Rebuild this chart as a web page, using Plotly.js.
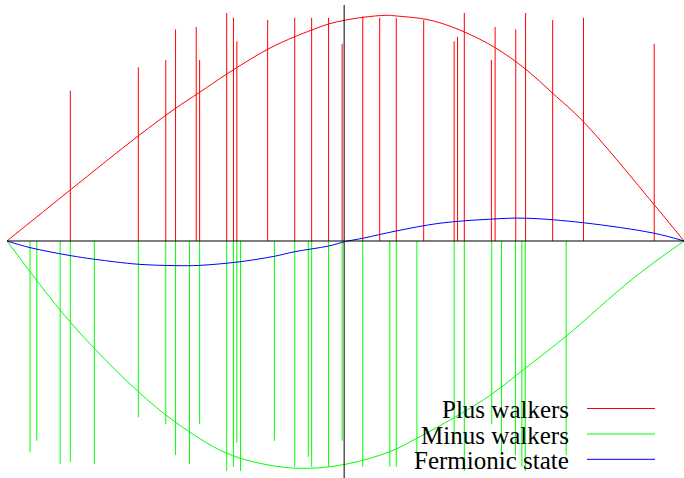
<!DOCTYPE html>
<html>
<head>
<meta charset="utf-8">
<script src="https://cdn.plot.ly/plotly-3.0.1.min.js"></script>
<style>html,body{margin:0;padding:0;background:#fff;}#chart{width:684px;height:478px;}</style>
</head>
<body>
<div id="chart"></div>
<script>
// Plus walkers: positions and heights
var plusX = [-0.813,-0.612,-0.531,-0.502,-0.441,-0.431,-0.351,-0.331,-0.321,-0.230,-0.150,-0.100,-0.050,-0.010,0.051,0.101,0.150,0.231,0.321,0.331,0.351,0.431,0.442,0.503,0.532,0.612,0.703,0.912];
var plusH = [0.659,0.762,0.794,0.928,0.939,0.794,1.000,0.979,0.876,0.969,0.979,0.979,0.979,0.865,0.984,0.979,0.979,0.969,0.876,0.896,1.000,0.794,0.939,0.928,1.000,0.969,0.979,0.865];
// Minus walkers: positions and depths
var minusX = [-0.932,-0.912,-0.843,-0.813,-0.742,-0.612,-0.531,-0.502,-0.461,-0.431,-0.351,-0.331,-0.321,-0.310,-0.210,-0.150,-0.110,-0.100,-0.050,-0.010,0.051,0.131,0.150,0.211,0.321,0.351,0.432,0.461,0.502,0.521,0.531,0.652];
var minusD = [0.927,0.876,0.979,0.969,0.979,0.773,0.803,0.939,0.979,0.803,1.009,0.990,0.885,1.009,0.876,0.990,0.947,0.990,0.990,0.876,0.990,0.990,0.990,0.939,0.885,1.009,0.803,0.939,0.939,0.990,1.009,0.939];
// Curves
var plusCurveX = [-1,-0.813,-0.612,-0.502,-0.431,-0.351,-0.230,-0.150,-0.100,-0.050,0.001,0.051,0.122,0.150,0.231,0.279,0.351,0.442,0.532,0.612,0.703,0.912,1];
var plusCurveY = [0,0.224,0.461,0.582,0.652,0.732,0.841,0.896,0.925,0.952,0.969,0.981,0.990,0.987,0.974,0.957,0.917,0.848,0.754,0.648,0.523,0.159,0];
var minusCurveX = [-1,-0.843,-0.742,-0.612,-0.502,-0.351,-0.210,-0.110,0.001,0.131,0.211,0.338,0.432,0.531,0.652,0.850,1];
var minusCurveY = [0,-0.303,-0.471,-0.661,-0.795,-0.931,-0.987,-0.997,-0.979,-0.924,-0.865,-0.760,-0.672,-0.558,-0.417,-0.164,0];
var fermiX = [-1,-0.932,-0.813,-0.742,-0.612,-0.502,-0.431,-0.312,-0.210,-0.150,-0.050,0.001,0.051,0.150,0.279,0.431,0.532,0.703,0.912,1];
var fermiY = [0,-0.029,-0.064,-0.080,-0.102,-0.108,-0.107,-0.091,-0.067,-0.047,-0.022,-0.002,0.012,0.044,0.078,0.096,0.100,0.080,0.034,0];
var legendLabels = ["Plus walkers","Minus walkers","Fermionic state"];
var legendColors = ["#ff0000","#00ff00","#0000ff"];

function sticks(xs, vals, sign){
  var X=[],Y=[];
  for(var i=0;i<xs.length;i++){X.push(xs[i],xs[i],null);Y.push(0,sign*vals[i],null);}
  return {x:X,y:Y};
}
var p = sticks(plusX, plusH, 1), m = sticks(minusX, minusD, -1);
var traces = [
  {x:p.x,y:p.y,mode:'lines',line:{color:'#ff0000',width:1},hoverinfo:'skip',connectgaps:false},
  {x:m.x,y:m.y,mode:'lines',line:{color:'#00ff00',width:1},hoverinfo:'skip',connectgaps:false},
  {x:plusCurveX,y:plusCurveY,mode:'lines',line:{color:'#ff0000',width:1,shape:'spline',smoothing:1},hoverinfo:'skip'},
  {x:minusCurveX,y:minusCurveY,mode:'lines',line:{color:'#00ff00',width:1,shape:'spline',smoothing:1},hoverinfo:'skip'},
  {x:fermiX,y:fermiY,mode:'lines',line:{color:'#0000ff',width:1,shape:'spline',smoothing:1},hoverinfo:'skip'}
];
var H=478, W=684, L=7;
function py(v){return 1 - v/H;}
function px(v){return (v-L)/(W-L);}
var annotations=[], shapes=[];
var rowsY=[408.5,434,459.3];
for(var i=0;i<legendLabels.length;i++){
  annotations.push({xref:'paper',yref:'paper',x:px(571),y:py(rowsY[i]+1),xanchor:'right',yanchor:'middle',showarrow:false,
    text:legendLabels[i],font:{family:'Liberation Serif, Times New Roman, serif',size:25,color:'#000'}});
  shapes.push({type:'line',xref:'paper',yref:'paper',x0:px(587),x1:px(655),y0:py(rowsY[i]),y1:py(rowsY[i]),line:{color:legendColors[i],width:1}});
}
shapes.push({type:'line',xref:'x',yref:'paper',x0:-0.004,x1:-0.004,y0:0,y1:py(5),line:{color:'#000',width:1},layer:'above'});
shapes.push({type:'line',xref:'paper',yref:'y',x0:0,x1:1,y0:0,y1:0,line:{color:'#000',width:1},layer:'above'});
var layout = {
  width:W,height:H,margin:{l:L,r:0,t:0,b:0,pad:0},
  paper_bgcolor:'#fff',plot_bgcolor:'#fff',showlegend:false,
  xaxis:{range:[-1,1],showgrid:false,zeroline:false,showticklabels:false,ticks:'',showline:false},
  yaxis:{range:[-1.0395,1.057],showgrid:false,zeroline:false,showticklabels:false,ticks:'',showline:false},
  annotations:annotations,shapes:shapes
};
Plotly.newPlot('chart',traces,layout,{staticPlot:true,displayModeBar:false});
</script>
</body>
</html>
